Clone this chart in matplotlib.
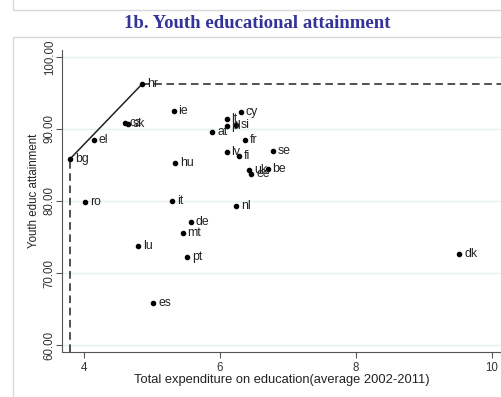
import numpy as np
import matplotlib.pyplot as plt
from matplotlib.patches import Rectangle

# average education expenditure (% GDP) vs youth educational attainment (%)
countries = ["hr", "ie", "cz", "sk", "el", "bg", "hu", "ro", "it", "nl", "de", "mt",
             "lu", "pt", "es", "dk", "cy", "lt", "pl", "si", "at", "fr", "lv", "fi",
             "se", "uk", "ee", "be"]
expenditure = [4.85, 5.32, 4.60, 4.65, 4.14, 3.80, 5.34, 4.02, 5.30, 6.24, 5.57, 5.45,
               4.80, 5.52, 5.02, 9.52, 6.31, 6.10, 6.10, 6.23, 5.89, 6.37, 6.10, 6.28,
               6.78, 6.43, 6.46, 6.70]
attainment = [96.2, 92.5, 90.8, 90.7, 88.5, 85.9, 85.3, 79.8, 80.0, 79.3, 77.1, 75.6,
              73.8, 72.2, 65.9, 72.6, 92.4, 91.4, 90.4, 90.5, 89.6, 88.5, 86.8, 86.3,
              86.9, 84.3, 83.7, 84.5]

# efficiency frontier: bg -> hr
frontier_x = [3.80, 4.85]
frontier_y = [85.9, 96.2]

x_ticks = [4, 6, 8, 10]
y_ticks = [60, 70, 80, 90, 100]

plt.rcParams['font.family'] = ['Liberation Sans', 'DejaVu Sans']

fig = plt.figure(figsize=(5.02, 3.97), dpi=100)

# light panel frames
fig.patches.append(Rectangle((13 / 502, 1 - 10 / 397), 0.99, 0.05, transform=fig.transFigure,
                             fill=False, edgecolor="#d8d8d8", lw=1))
fig.patches.append(Rectangle((13 / 502, -0.02), 0.99, 1 - 37 / 397 + 0.02, transform=fig.transFigure,
                             fill=False, edgecolor="#d8d8d8", lw=1))

fig.text(0.512, 1 - 23 / 397, "1b. Youth educational attainment", ha="center", va="center",
         family="Liberation Serif", fontweight="bold", fontsize=13.5, color="#333399")

ax = fig.add_axes([62 / 502, 1 - 352 / 397, 1 - 62 / 502, (352 - 50) / 397])
ax.set_xlim(3.676, 10.15)
ax.set_ylim(59.03, 100.97)

for v in y_ticks:
    ax.axhline(v, color="#e6f0f1", lw=1, zorder=0)

ax.plot(frontier_x, frontier_y, color="#222222", lw=1.1)
ax.plot([frontier_x[1], 10.15], [frontier_y[1], frontier_y[1]], color="#222222", lw=1.1,
        dashes=(5, 3))
ax.plot([frontier_x[0], frontier_x[0]], [59.03, frontier_y[0]], color="#222222", lw=1.1,
        dashes=(5, 3))

ax.scatter(expenditure, attainment, s=9, color="black", zorder=3)
for name, xv, yv in zip(countries, expenditure, attainment):
    ax.annotate(name, (xv, yv), xytext=(3.5, 0), textcoords="offset points",
                va="center", ha="left", fontsize=8.8, color="#222222")

ax.set_xticks(x_ticks)
ax.set_yticks(y_ticks)
ax.set_yticklabels([f"{v:.2f}" for v in y_ticks], rotation=90, va="center")
ax.tick_params(labelsize=8.3, color="#555555", length=4, labelcolor="#333333")
ax.tick_params(axis="y", pad=0.5)
ax.set_xlabel("Total expenditure on education(average 2002-2011)", fontsize=9.3,
              color="#222222", labelpad=0)
ax.set_ylabel("Youth educ attainment", fontsize=8.3, color="#222222")
ax.yaxis.set_label_coords(-0.05, 0.533)

for side in ["top", "right"]:
    ax.spines[side].set_visible(False)
for side in ["left", "bottom"]:
    ax.spines[side].set_color("#555555")

fig.savefig("out.png", dpi=100)
